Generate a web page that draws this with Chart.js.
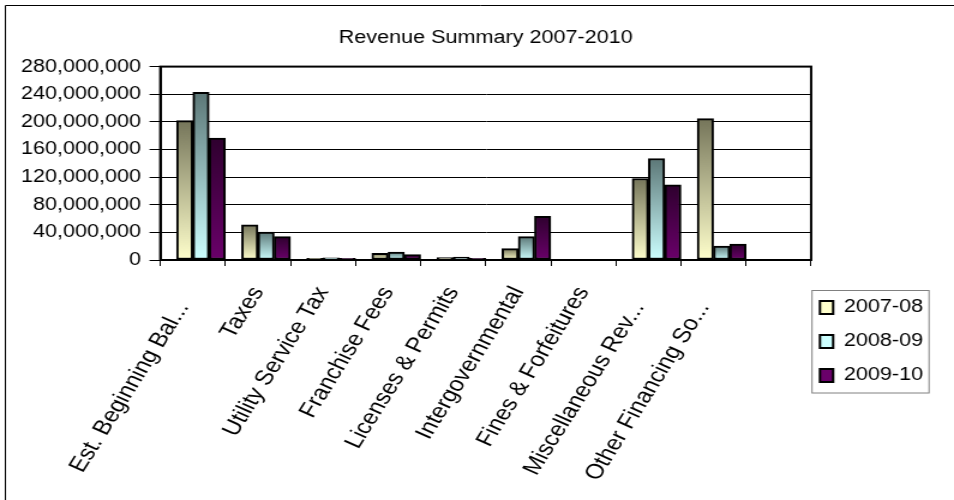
<!DOCTYPE html>
<html>
<head>
    <title>Revenue Summary 2007-2010</title>
    <script src="https://cdn.jsdelivr.net/npm/chart.js"></script>
    <style>
        html, body { margin: 0; padding: 0; background: #fff; overflow: hidden; }
        /* chart is laid out narrower and stretched sideways to get the wide lettering */
        #wrap { width: 795px; height: 500px; transform: scaleX(1.2); transform-origin: 0 0; }
    </style>
</head>
<body>
    <div id="wrap"><canvas id="revChart"></canvas></div>

    <script>
        const categories = ['Est. Beginning Bal...', 'Taxes', 'Utility Service Tax', 'Franchise Fees',
            'Licenses & Permits', 'Intergovernmental', 'Fines & Forfeitures', 'Miscellaneous Rev...',
            'Other Financing So...', ''];
        const fy0708 = [201700000, 50800000, 2500000, 9700000, 3500000, 16400000, 1000000, 118000000, 204600000, null];
        const fy0809 = [242800000, 40600000, 3300000, 11600000, 4400000, 33800000, 1100000, 147000000, 20300000, null];
        const fy0910 = [176600000, 33800000, 2500000, 7700000, 2500000, 63400000, 900000, 108800000, 23200000, null];
        // empty slot so each group sits in the right part of its category
        const spacer = [null, null, null, null, null, null, null, null, null, null];
        const yTicks = [0, 40000000, 80000000, 120000000, 160000000, 200000000, 240000000, 280000000];

        const font = 'Liberation Sans, Arial, sans-serif';

        // vertical gradient running over each bar, dark at the top
        function barFill(top, bottom) {
            return function (context) {
                const chart = context.chart;
                const y = chart.scales.y;
                if (!chart.chartArea || !y || context.raw == null) return bottom;
                const yTop = y.getPixelForValue(context.raw);
                const yBase = y.getPixelForValue(0);
                if (yBase - yTop < 1) return top;
                const g = chart.ctx.createLinearGradient(0, yTop, 0, yBase);
                g.addColorStop(0, top);
                g.addColorStop(1, bottom);
                return g;
            };
        }

        const frames = {
            id: 'frames',
            afterLayout(chart) {
                // legend sits just right of the plot, a bit below its middle
                const lg = chart.legend;
                lg.left = 667.3; lg.right = 790;
                lg.top = 256; lg.bottom = 427;
            },
            beforeDraw(chart) {
                const c = chart.ctx;
                c.save();
                c.strokeStyle = '#000';
                c.lineWidth = 1;
                c.beginPath();
                c.moveTo(4.5, 520); c.lineTo(4.5, 5.5); c.lineTo(820, 5.5);
                c.stroke();
                c.restore();
            },
            afterDatasetsDraw(chart) {
                const a = chart.chartArea;
                const c = chart.ctx;
                c.save();
                c.strokeStyle = '#000';
                c.lineWidth = 2;
                c.strokeRect(a.left, a.top, a.right - a.left, a.bottom - a.top);
                c.restore();
            },
            afterDraw(chart) {
                const c = chart.ctx;
                c.save();
                c.strokeStyle = '#808080';
                c.lineWidth = 1;
                c.strokeRect(676.7, 290.5, 97.5, 102.5);
                c.restore();
            }
        };

        new Chart(document.getElementById('revChart'), {
            type: 'bar',
            data: {
                labels: categories,
                datasets: [
                    { label: '', data: spacer },
                    { label: '2007-08', data: fy0708, backgroundColor: barFill('#75755a', '#ffffcc') },
                    { label: '2008-09', data: fy0809, backgroundColor: barFill('#5c7777', '#ccffff') },
                    { label: '2009-10', data: fy0910, backgroundColor: barFill('#2e002e', '#6a006a') }
                ].map(d => Object.assign({ borderColor: '#000', borderWidth: 2, borderSkipped: false,
                    categoryPercentage: 1, barPercentage: 1 }, d))
            },
            options: {
                responsive: true,
                maintainAspectRatio: false,
                animation: false,
                layout: { padding: { left: 10.5, right: 7, top: 0, bottom: 13 } },
                plugins: {
                    title: {
                        display: true,
                        fullSize: false,
                        text: 'Revenue Summary 2007-2010',
                        color: '#000',
                        font: { family: font, size: 18, weight: 'normal' },
                        padding: { top: 27, bottom: 18 }
                    },
                    legend: {
                        position: 'right',
                        labels: {
                            color: '#000',
                            font: { family: font, size: 18 },
                            boxWidth: 11,
                            boxHeight: 13,
                            padding: 16,
                            filter: item => item.text !== ''
                        }
                    },
                    tooltip: { enabled: false }
                },
                scales: {
                    x: {
                        afterFit(scale) { scale.height = 227; },
                        grid: { drawOnChartArea: false, tickLength: 6, color: '#000', offset: true },
                        border: { color: '#000', width: 2 },
                        ticks: {
                            color: '#000',
                            font: { family: font, size: 21 },
                            padding: 16.5,
                            minRotation: 62,
                            maxRotation: 62,
                            autoSkip: false,
                            // cut-off names keep a little room after the dots
                            callback: (v, i) => categories[i].endsWith('...') ? categories[i] + '   ' : categories[i]
                        }
                    },
                    y: {
                        min: yTicks[0],
                        max: yTicks[yTicks.length - 1],
                        afterBuildTicks(scale) { scale.ticks = yTicks.map(v => ({ value: v })); },
                        grid: { color: '#000', lineWidth: 1, tickLength: 9, tickColor: '#000' },
                        border: { color: '#000', width: 2 },
                        ticks: {
                            color: '#000',
                            font: { family: font, size: 18 },
                            padding: 7,
                            autoSkip: false,
                            callback: v => v.toLocaleString('en-US')
                        }
                    }
                }
            },
            plugins: [frames]
        });
    </script>
</body>
</html>
